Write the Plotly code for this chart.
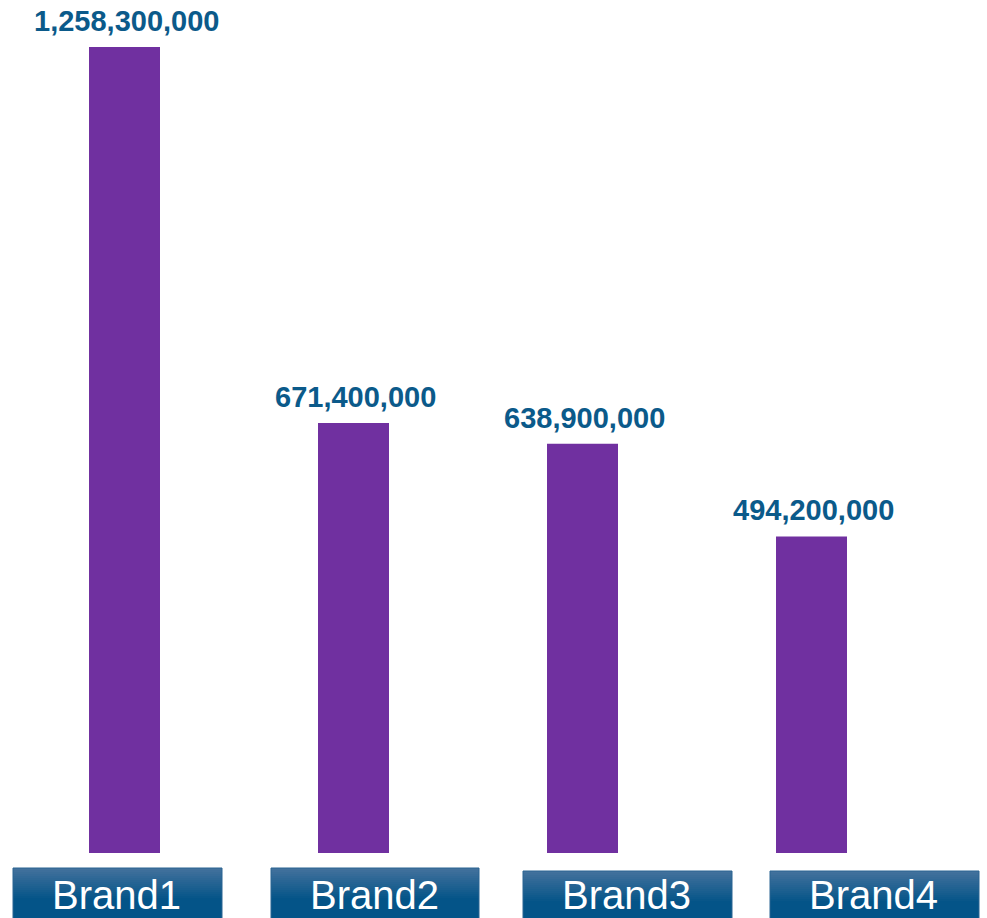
import plotly.graph_objects as go

# Category names and sales values
brands = ["Brand1", "Brand2", "Brand3", "Brand4"]
sales = [1258300000, 671400000, 638900000, 494200000]

W, H = 987, 918
L, R, T, B = 10, 61, 0, 65
pw, ph = W - L - R, H - T - B

BAR_COLOR = "#7030A0"
VALUE_COLOR = "#0B5A8A"


def paper_x(px):
    return (px - L) / pw


def paper_y(py):
    return (H - B - py) / ph


fig = go.Figure(
    go.Bar(
        x=brands,
        y=sales,
        marker=dict(color=BAR_COLOR, line=dict(width=0)),
        hoverinfo="x+y",
    )
)

# Value labels above each bar
for b, v in zip(brands, sales):
    fig.add_annotation(
        x=b, y=v, xref="x", yref="y",
        text=f"{v:,}",
        showarrow=False,
        yanchor="bottom",
        yshift=8, xshift=2,
        font=dict(family="Liberation Sans, Arial", size=29, color=VALUE_COLOR, weight="bold"),
    )

# Category label tiles below the axis (left, right, top in pixels)
tiles = [(13, 222, 868), (271, 479, 868), (523, 732, 871), (770, 979, 871)]
top_rgb = (66, 113, 156)
bot_rgb = (4, 84, 136)
grad_px = 32
steps = 16
shapes = []
for (x0, x1, top), name in zip(tiles, brands):
    bottom = H + 10
    # solid lower part
    shapes.append(dict(
        type="rect", xref="paper", yref="paper",
        x0=paper_x(x0), x1=paper_x(x1),
        y0=paper_y(bottom), y1=paper_y(top + grad_px),
        fillcolor="rgb(%d,%d,%d)" % bot_rgb, line=dict(width=0), layer="above",
    ))
    # gradient upper part
    for i in range(steps):
        t = i / (steps - 1)
        c = tuple(round(top_rgb[k] + (bot_rgb[k] - top_rgb[k]) * t) for k in range(3))
        ya = top + grad_px * i / steps
        yb = top + grad_px * (i + 1) / steps
        shapes.append(dict(
            type="rect", xref="paper", yref="paper",
            x0=paper_x(x0), x1=paper_x(x1),
            y0=paper_y(yb + 0.5), y1=paper_y(ya),
            fillcolor="rgb(%d,%d,%d)" % c, line=dict(width=0), layer="above",
        ))
    # outline
    shapes.append(dict(
        type="rect", xref="paper", yref="paper",
        x0=paper_x(x0), x1=paper_x(x1),
        y0=paper_y(bottom), y1=paper_y(top),
        fillcolor="rgba(0,0,0,0)", line=dict(width=1, color="#2A6592"), layer="above",
    ))
    fig.add_annotation(
        x=paper_x((x0 + x1) / 2 - 1), y=paper_y(895),
        xref="paper", yref="paper",
        text=name, showarrow=False,
        xanchor="center", yanchor="middle", borderpad=0,
        font=dict(family="Liberation Sans, Arial", size=40, color="white"),
    )

fig.update_layout(
    width=W, height=H,
    margin=dict(l=L, r=R, t=T, b=B, pad=0),
    paper_bgcolor="white",
    plot_bgcolor="white",
    bargap=0.69,
    showlegend=False,
    shapes=shapes,
    xaxis=dict(showticklabels=False, showgrid=False, zeroline=False, showline=False,
               ticks="", range=[-0.5, 3.5]),
    yaxis=dict(showticklabels=False, showgrid=False, zeroline=False, showline=False,
               ticks="", range=[0, 1258300000 * 853 / 806]),
)

fig.write_html("out.html")
